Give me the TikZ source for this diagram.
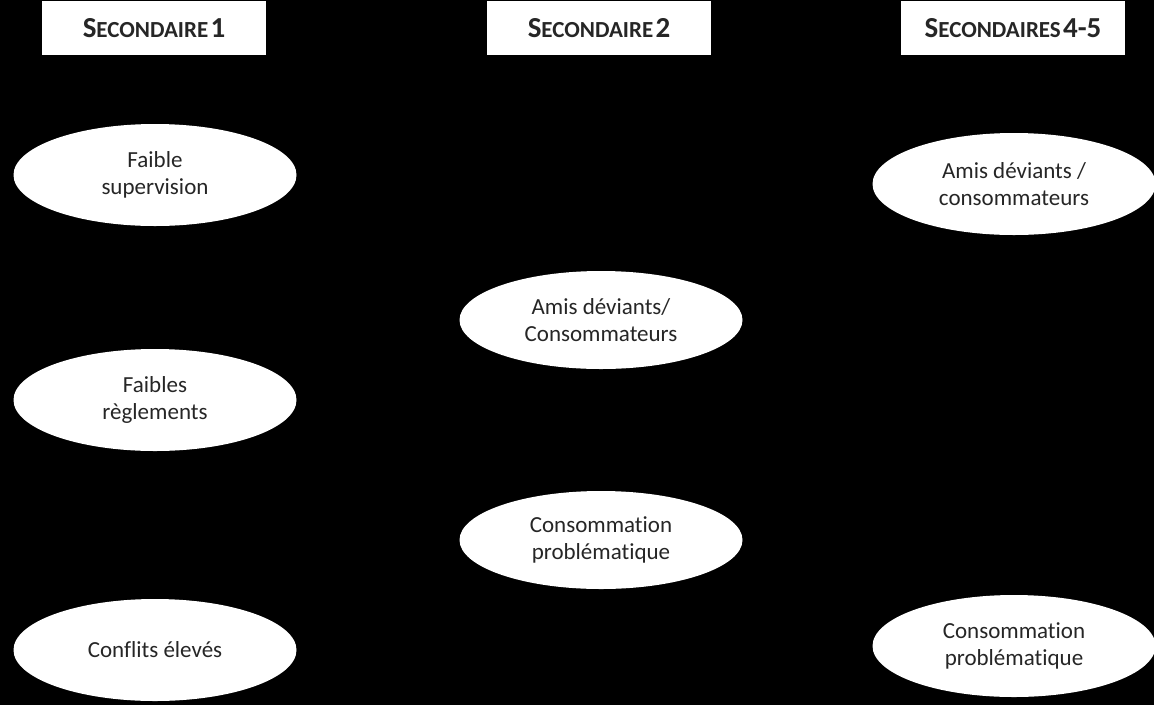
\documentclass[tikz,border=0pt]{standalone}
\usepackage{fontspec}
\setmainfont[Ligatures=NoCommon]{Carlito}
\usetikzlibrary{shapes.geometric}
\newcommand{\hdrsc}[1]{{\fontsize{29}{32}\selectfont #1}}
\newcommand{\hdrsm}[1]{{\fontsize{23}{26}\selectfont #1}}
\tikzset{
  oval/.style={ellipse, fill=white, draw=none, minimum width=283pt, minimum height=102pt, inner sep=0pt,
    align=center, font=\fontsize{23}{27}\selectfont, text=black!85},
  hdr/.style={rectangle, fill=white, draw=none, minimum width=224pt, minimum height=54pt, inner sep=0pt,
    font=\bfseries, text=black!85}
}
\begin{document}
\begin{tikzpicture}[x=1pt,y=-1pt]
\fill[black] (0,0) rectangle (1154,705);
\useasboundingbox (0,0) rectangle (1154,705);
\node[hdr] (h1) at (154,28) {\hdrsc{S}\hdrsm{ECONDAIRE} \hdrsc{1}};
\node[hdr] (h2) at (599,28) {\hdrsc{S}\hdrsm{ECONDAIRE} \hdrsc{2}};
\node[hdr] (h3) at (1013,28) {\hdrsc{S}\hdrsm{ECONDAIRES} \hdrsc{4-5}};
\node[oval] (a1) at (155,175) {Faible\\supervision};
\node[oval] (a2) at (155,400) {Faibles\\règlements};
\node[oval] (a3) at (155,650) {Conflits élevés};
\node[oval, minimum height=98pt] (b1) at (601,320) {Amis déviants/\\Consommateurs};
\node[oval, minimum height=98pt] (b2) at (601,540) {Consommation\\problématique};
\node[oval] (c1) at (1014,184) {Amis déviants /\\consommateurs};
\node[oval] (c2) at (1014,646) {Consommation\\problématique};
\end{tikzpicture}
\end{document}
